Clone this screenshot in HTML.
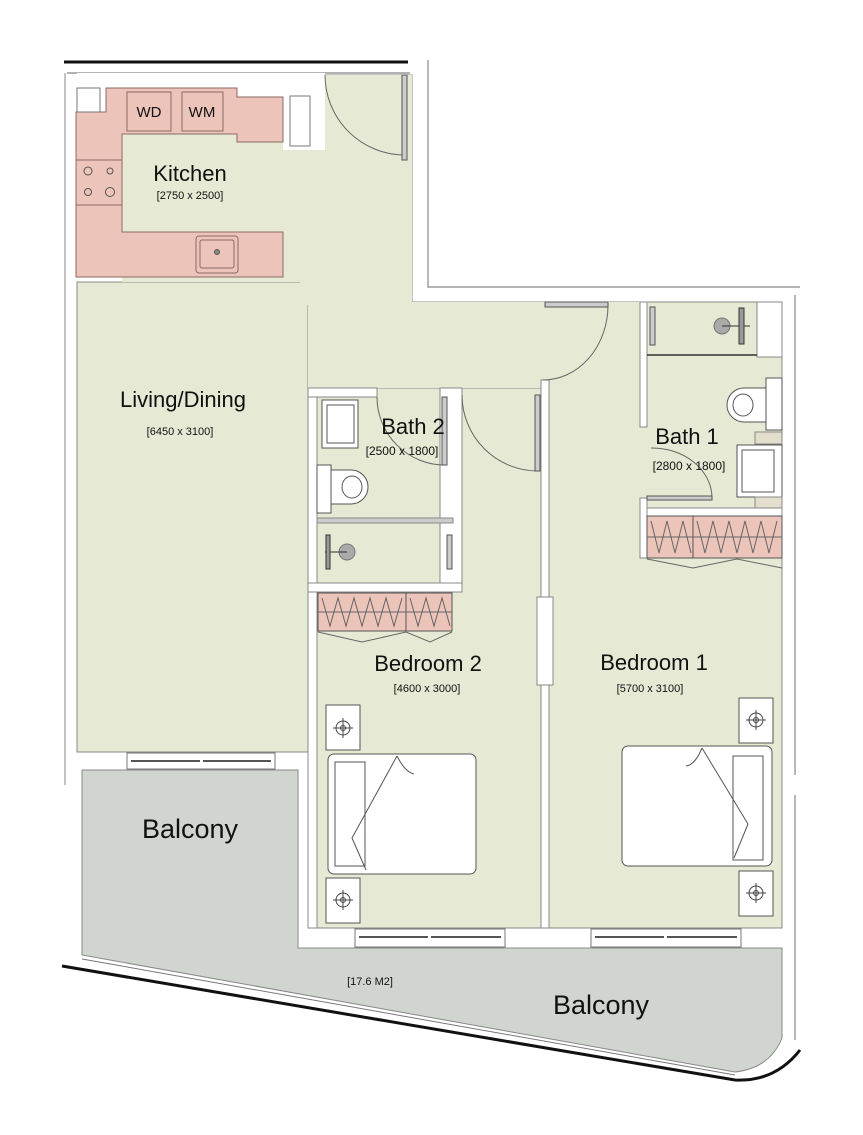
<!DOCTYPE html>
<html><head><meta charset="utf-8"><style>
html,body{margin:0;padding:0;background:#fff}
svg{display:block}
text{font-family:"Liberation Sans",sans-serif;fill:#111}
</style></head><body>
<svg width="863" height="1135" viewBox="0 0 863 1135" xmlns="http://www.w3.org/2000/svg">
<rect width="863" height="1135" fill="#fff"/>
<line x1="64" y1="62" x2="408" y2="62" stroke="#111" stroke-width="3"/>
<line x1="67" y1="73" x2="410" y2="73" stroke="#999" stroke-width="1.5"/>
<line x1="65" y1="73" x2="65" y2="785" stroke="#999" stroke-width="1.2"/>
<polyline points="428,60 428,287 800,287" fill="none" stroke="#888" stroke-width="1.2"/>
<line x1="795" y1="295" x2="795" y2="775" stroke="#888" stroke-width="1.2"/>
<line x1="795" y1="795" x2="795" y2="1040" stroke="#888" stroke-width="1.2"/>
<g fill="#e6e9d4" stroke="#888" stroke-width="1">
<polygon points="122,134 122,88 325,88 325,75 412,75 412,302 640,302 640,515 647,515 647,558 549,558 549,380 541,380 541,388 462,388 462,583 308,583 308,752 77,752 77,282 283,282 283,142"/>
<rect x="317" y="397" width="136" height="186"/>
<rect x="317" y="388" width="225" height="540"/>
<rect x="549" y="302" width="233" height="626"/>
<rect x="77" y="282" width="231" height="470"/>
<rect x="122" y="134" width="290" height="148" stroke="none"/>
<rect x="300" y="75" width="112" height="230" stroke="none"/>
<rect x="308" y="302" width="340" height="86" stroke="none"/>
</g>
<rect x="283" y="75" width="42" height="75" fill="#fff"/>
<rect x="237" y="75" width="50" height="22" fill="#fff"/>
<rect x="290" y="96" width="20" height="50" fill="#fff" stroke="#777"/>
<rect x="77" y="73" width="248" height="15" fill="#fff"/>
<g fill="#ecc4ba" stroke="#8a6a64" stroke-width="1">
<polygon points="106,88 237,88 237,97 283,97 283,142 237,142 237,134 122,134 122,232 283,232 283,277 76,277 76,112 106,112"/>
<rect x="127" y="92" width="44" height="39"/>
<rect x="182" y="92" width="41" height="39"/>
<line x1="76" y1="160" x2="122" y2="160"/>
<line x1="76" y1="205" x2="122" y2="205"/>
<rect x="196" y="236" width="42" height="37" rx="3" fill="none"/>
<rect x="200" y="240" width="34" height="28" rx="2" fill="none"/>
</g>
<rect x="77" y="88" width="23" height="24" fill="#fff" stroke="#777"/>
<text x="149" y="117" font-size="15" text-anchor="middle">WD</text>
<text x="202" y="117" font-size="15" text-anchor="middle">WM</text>
<g fill="none" stroke="#555" stroke-width="1">
<circle cx="88" cy="171" r="4"/><circle cx="110" cy="171" r="3"/><circle cx="88" cy="192" r="3.5"/><circle cx="110" cy="192" r="4.5"/>
<circle cx="217" cy="252" r="2.5" fill="#888"/>
</g>
<path d="M82,770 L298,770 L298,948 L782,948 L782,1038 Q770,1068 735,1072 L82,955 Z" fill="#d0d6cf" stroke="#888" stroke-width="1"/>
<path d="M62,966 L735,1080 Q775,1082 800,1050" fill="none" stroke="#111" stroke-width="3"/>
<line x1="82" y1="959" x2="735" y2="1075" stroke="#777" stroke-width="1"/>
<g fill="#fff" stroke="#777" stroke-width="1">
<rect x="127" y="753" width="148" height="16"/>
<rect x="355" y="929" width="150" height="18"/>
<rect x="591" y="929" width="150" height="18"/>
</g>
<g stroke="#555" stroke-width="2">
<line x1="131" y1="761" x2="200" y2="761"/><line x1="203" y1="761" x2="271" y2="761"/>
<line x1="359" y1="937" x2="428" y2="937"/><line x1="431" y1="937" x2="501" y2="937"/>
<line x1="595" y1="937" x2="664" y2="937"/><line x1="667" y1="937" x2="737" y2="937"/>
</g>
<g fill="#fff" stroke="#888" stroke-width="1">
<rect x="308" y="388" width="9" height="540"/>
<rect x="541" y="380" width="8" height="548"/>
<rect x="537" y="597" width="16" height="88"/>
<rect x="440" y="388" width="22" height="195"/>
<rect x="308" y="388" width="69" height="9"/>
<rect x="308" y="583" width="154" height="9"/>
<rect x="640" y="302" width="7" height="125"/>
<rect x="640" y="498" width="7" height="60"/>
<rect x="647" y="508" width="135" height="8"/>
<rect x="757" y="302" width="25" height="55"/>
<rect x="317" y="518" width="136" height="5" fill="#ccc"/>
</g>
<g fill="#fff" stroke="#555" stroke-width="1">
<rect x="322" y="400" width="36" height="48"/><rect x="327" y="405" width="27" height="38"/>
<rect x="317" y="465" width="14" height="48"/>
<path d="M331,470 h20 a17,17 0 0 1 0,34 h-20 Z"/>
<ellipse cx="352" cy="487" rx="10" ry="11"/>
</g>
<circle cx="347" cy="552" r="8" fill="#aaa" stroke="#777"/>
<line x1="325" y1="552" x2="347" y2="552" stroke="#333"/>
<rect x="326" y="535" width="4" height="34" fill="#999" stroke="#333"/>
<rect x="447" y="535" width="5" height="34" fill="#ccc" stroke="#555"/>
<line x1="647" y1="355" x2="757" y2="355" stroke="#333" stroke-width="1.5"/>
<rect x="650" y="307" width="5" height="38" fill="#ccc" stroke="#555"/>
<circle cx="722" cy="326" r="8" fill="#aaa" stroke="#777"/>
<line x1="722" y1="326" x2="750" y2="326" stroke="#333"/>
<rect x="739" y="308" width="5" height="36" fill="#999" stroke="#333"/>
<g fill="#fff" stroke="#555" stroke-width="1">
<path d="M766,388 h-22 a17,17 0 0 0 0,34 h22 Z"/>
<ellipse cx="743" cy="405" rx="10" ry="11"/>
<rect x="766" y="378" width="16" height="52"/>
<rect x="737" y="445" width="45" height="52"/><rect x="742" y="450" width="32" height="42"/>
</g>
<rect x="755" y="432" width="27" height="12" fill="#e4dfcc" stroke="#888"/>
<rect x="755" y="497" width="27" height="11" fill="#e4dfcc" stroke="#888"/>
<g fill="#ecc4ba" stroke="#555" stroke-width="1">
<rect x="318" y="593" width="134" height="38"/><line x1="406" y1="593" x2="406" y2="631"/>
<rect x="647" y="516" width="135" height="42"/><line x1="693" y1="516" x2="693" y2="558"/>
</g>
<g fill="none" stroke="#666" stroke-width="1">
<polyline points="322,598 330,626 338,598 346,626 354,598 362,626 370,598 378,626 386,598 394,626 402,598"/>
<polyline points="410,598 418,626 426,598 434,626 442,598 450,626"/>
<polyline points="651,521 659,553 667,521 675,553 683,521 691,553"/>
<polyline points="697,521 705,553 713,521 721,553 729,521 737,553 745,521 753,553 761,521 769,553 777,521"/>
<line x1="318" y1="612" x2="452" y2="612"/>
<line x1="647" y1="537" x2="782" y2="537"/>
<polyline points="318,632 362,642 406,632 430,642 452,632"/>
<polyline points="647,559 693,568 737,559 782,568"/>
<path d="M325,75 A80,80 0 0 0 405,155"/>
<path d="M462,395 A76,76 0 0 0 538,471"/>
<path d="M377,397 A68,68 0 0 0 445,465"/>
<path d="M608,305 A65,75 0 0 1 543,380"/>
<path d="M651,448 A60,50 0 0 1 712,498"/>
</g>
<g fill="#ccc" stroke="#555">
<rect x="402" y="75" width="5" height="85"/>
<rect x="535" y="395" width="5" height="76"/>
<rect x="442" y="397" width="5" height="68"/>
<rect x="545" y="302" width="63" height="5"/>
<rect x="647" y="496" width="65" height="4"/>
</g>
<g fill="#fff" stroke="#555" stroke-width="1">
<rect x="328" y="754" width="148" height="120" rx="6"/>
<rect x="335" y="762" width="30" height="104"/>
<rect x="622" y="746" width="150" height="120" rx="6"/>
<rect x="733" y="756" width="30" height="104"/>
<rect x="326" y="705" width="34" height="45"/><rect x="326" y="878" width="34" height="45"/>
<rect x="739" y="698" width="34" height="45"/><rect x="739" y="871" width="34" height="45"/>
<path d="M397,756 L352,838 L366,870" fill="none"/><path d="M397,756 Q405,772 414,774"/>
<path d="M702,748 L748,824 L734,858" fill="none"/><path d="M702,748 Q695,765 686,766"/>
</g>
<g fill="none" stroke="#444" stroke-width="1">
<circle cx="343" cy="728" r="7"/><circle cx="343" cy="728" r="2.5"/><line x1="333" y1="728" x2="353" y2="728"/><line x1="343" y1="718" x2="343" y2="738"/>
<circle cx="343" cy="900" r="7"/><circle cx="343" cy="900" r="2.5"/><line x1="333" y1="900" x2="353" y2="900"/><line x1="343" y1="890" x2="343" y2="910"/>
<circle cx="756" cy="720" r="7"/><circle cx="756" cy="720" r="2.5"/><line x1="746" y1="720" x2="766" y2="720"/><line x1="756" y1="710" x2="756" y2="730"/>
<circle cx="756" cy="893" r="7"/><circle cx="756" cy="893" r="2.5"/><line x1="746" y1="893" x2="766" y2="893"/><line x1="756" y1="883" x2="756" y2="903"/>
</g>
<text x="190" y="181" font-size="22" text-anchor="middle">Kitchen</text>
<text x="190" y="199" font-size="11" text-anchor="middle">[2750 x 2500]</text>
<text x="183" y="407" font-size="22" text-anchor="middle">Living/Dining</text>
<text x="180" y="435" font-size="11" text-anchor="middle">[6450 x 3100]</text>
<text x="413" y="434" font-size="22" text-anchor="middle">Bath 2</text>
<text x="402" y="455" font-size="12" text-anchor="middle">[2500 x 1800]</text>
<text x="687" y="444" font-size="22" text-anchor="middle">Bath 1</text>
<text x="689" y="470" font-size="12" text-anchor="middle">[2800 x 1800]</text>
<text x="428" y="671" font-size="22" text-anchor="middle">Bedroom 2</text>
<text x="427" y="692" font-size="11" text-anchor="middle">[4600 x 3000]</text>
<text x="654" y="670" font-size="22" text-anchor="middle">Bedroom 1</text>
<text x="650" y="692" font-size="11" text-anchor="middle">[5700 x 3100]</text>
<text x="190" y="838" font-size="27" text-anchor="middle">Balcony</text>
<text x="370" y="985" font-size="11" text-anchor="middle">[17.6 M2]</text>
<text x="601" y="1014" font-size="27" text-anchor="middle">Balcony</text>
</svg>
</body></html>
